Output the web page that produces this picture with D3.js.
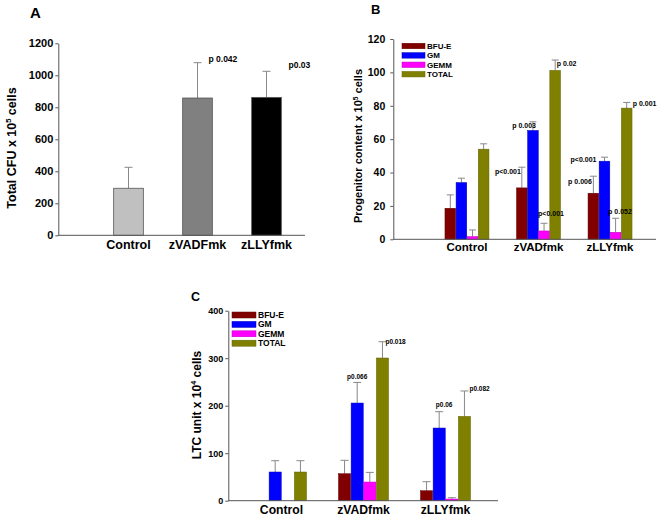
<!DOCTYPE html>
<html>
<head>
<meta charset="utf-8">
<script src="https://cdn.jsdelivr.net/npm/d3@7"></script>
<style>
    body { margin: 0; background: #fff; }
    svg { font-family: "Liberation Sans", Arial, sans-serif; font-weight: bold; }
</style>
</head>
<body>
<div id="chart"></div>
<script>
// ---- data ----
var catsA = ["Control", "zVADFmk", "zLLYfmk"];
var totalCFU = [294, 858, 862];
var totalCFUErr = [131, 221, 163];
var pLabelsA = [null, "p 0.042", "p0.03"];

var cats = ["Control", "zVADfmk", "zLLYfmk"];
var seriesNames = ["BFU-E", "GM", "GEMM", "TOTAL"];

var progBFUE = [18.6, 30.8, 27.6],   progBFUEErr = [8, 12.4, 10.2];
var progGM = [34, 65.2, 46.8],       progGMErr = [2.6, 5.2, 2.4];
var progGEMM = [1.6, 5, 4.2],        progGEMMErr = [4, 4.6, 8.4];
var progTOTAL = [54, 101.2, 78.6],   progTOTALErr = [3.2, 6.2, 3.4];

var ltcBFUE = [0, 56.8, 21],         ltcBFUEErr = [0, 28.2, 19];
var ltcGM = [60.4, 205.6, 153],      ltcGMErr = [23.8, 43.4, 34.4];
var ltcGEMM = [0, 39.3, 3.5],        ltcGEMMErr = [0, 20.3, 2.8];
var ltcTOTAL = [60.4, 300.4, 177.5], ltcTOTALErr = [23.8, 34.3, 53.5];

// p value text per [category][series]
var pLabelsB = [
    [null, null, null, null],
    ["p<0.001", "p 0.003", "p<0.001", "p 0.02"],
    ["p 0.006", "p<0.001", "p 0.052", "p 0.001"]
];
var pLabelsC = [
    [null, null, null, null],
    [null, "p0.066", null, "p0.018"],
    [null, "p0.06", null, "p0.082"]
];

// ---- placement of the p labels (relative to error bar top) ----
var pPlaceA = [null, [11, -1, "start"], [22, -3, "start"]];
var pPlaceB = [
    [null, null, null, null],
    [[-1, 7, "end"], [3, 6, "end"], [-6, -7, "start"], [1.5, 6, "start"]],
    [[-1.5, 7.5, "end"], [-8, 5, "end"], [-7.5, -4.5, "start"], [6, 3.5, "start"]]
];
var pPlaceC = [
    [null, null, null, null],
    [null, [0, -3, "middle"], null, [3, 2.5, "start"]],
    [null, [5, -4.5, "middle"], null, [5, 0.5, "start"]]
];

var colors = ["#800000", "#0000ff", "#ff00ff", "#808000"];
var greysA = ["#c0c0c0", "#808080", "#000000"];

var width = 661, height = 517;

var svg = d3.select("#chart").append("svg")
            .attr("width", width)
            .attr("height", height);

svg.append("rect").attr("width", width).attr("height", height).attr("fill", "#fff");

function drawAxes(g, y, opts) {
    var yAxis = d3.axisLeft(y)
                  .tickValues(opts.ticks)
                  .tickFormat(d3.format("d"))
                  .tickSize(3)
                  .tickSizeOuter(0)
                  .tickPadding(opts.tickPad);
    var ya = g.append("g")
              .attr("transform", "translate(" + opts.x0 + ",0)")
              .call(yAxis);
    ya.select(".domain").attr("stroke", "#555");
    ya.selectAll(".tick line").attr("stroke", "#555");
    ya.selectAll(".tick text")
      .attr("fill", "#000")
      .style("font-size", opts.tickFont + "px")
      .style("font-weight", "bold");

    g.append("line")
     .attr("x1", opts.x0).attr("x2", opts.x1)
     .attr("y1", y(0)).attr("y2", y(0))
     .attr("stroke", "#555");

    // axis title, rotated, with superscript
    var t = g.append("text")
             .attr("transform", "translate(" + opts.titleX + "," + opts.titleY + ") rotate(-90)")
             .attr("text-anchor", "middle")
             .style("font-size", opts.titleFont + "px");
    t.append("tspan").text(opts.title[0]);
    t.append("tspan").attr("dy", -opts.titleFont * 0.4)
     .style("font-size", (opts.titleFont * 0.6) + "px").text(opts.title[1]);
    t.append("tspan").attr("dy", opts.titleFont * 0.4).text(opts.title[2]);

    g.append("text")
     .attr("x", opts.letterX).attr("y", opts.letterY)
     .style("font-size", opts.letterFont + "px")
     .text(opts.letter);
}

function drawCatLabels(g, x, names, yPos, fontSize) {
    g.selectAll(".catLabel")
     .data(names)
     .enter()
     .append("text")
     .attr("class", "catLabel")
     .attr("x", function(d) { return x(d) + x.bandwidth() / 2; })
     .attr("y", yPos)
     .attr("text-anchor", "middle")
     .style("font-size", fontSize + "px")
     .text(function(d) { return d; });
}

function errorBar(g, cx, yTop, yBar, cap, color) {
    g.append("line")
     .attr("x1", cx).attr("x2", cx)
     .attr("y1", yBar).attr("y2", yTop)
     .attr("stroke", color).attr("stroke-width", 1);
    g.append("line")
     .attr("x1", cx - cap).attr("x2", cx + cap)
     .attr("y1", yTop).attr("y2", yTop)
     .attr("stroke", color).attr("stroke-width", 1);
}

// ================= Panel A =================
(function() {
    var g = svg.append("g").attr("class", "panelA");
    var y = d3.scaleLinear().domain([0, 1200]).range([235.3, 43.3]);
    var x = d3.scaleBand().domain(catsA).range([94, 301]).paddingInner(0.57).paddingOuter(0.285);

    var rows = catsA.map(function(c, i) {
        return {cat: c, v: totalCFU[i], e: totalCFUErr[i], fill: greysA[i], p: pLabelsA[i], place: pPlaceA[i]};
    });

    rows.forEach(function(d) {
        var cx = x(d.cat) + x.bandwidth() / 2;
        errorBar(g, cx, y(d.v + d.e), y(d.v), 4, "#888");
    });

    g.selectAll(".bar")
     .data(rows)
     .enter()
     .append("rect")
     .attr("class", "bar")
     .attr("x", function(d) { return x(d.cat); })
     .attr("width", x.bandwidth())
     .attr("y", function(d) { return y(d.v); })
     .attr("height", function(d) { return y(0) - y(d.v); })
     .attr("fill", function(d) { return d.fill; })
     .attr("stroke", "#555")
     .attr("stroke-width", 0.8);

    rows.forEach(function(d) {
        if (!d.p) { return; }
        var cx = x(d.cat) + x.bandwidth() / 2;
        g.append("text")
         .attr("x", cx + d.place[0])
         .attr("y", y(d.v + d.e) + d.place[1])
         .attr("text-anchor", d.place[2])
         .attr("fill", "#000")
         .style("font-size", "8.5px")
         .text(d.p);
    });

    drawAxes(g, y, {
        ticks: d3.range(0, 1201, 200), x0: 58.3, x1: 305, tickPad: 2, tickFont: 11,
        title: ["Total CFU x 10", "5", " cells"], titleX: 15.5, titleY: 148, titleFont: 12.5,
        letter: "A", letterX: 30, letterY: 18, letterFont: 15
    });
    drawCatLabels(g, x, catsA, 249, 12.5);
})();

// ============ grouped panels B and C ============
function groupedPanel(cls, series, errs, labels, places, cfg) {
    var g = svg.append("g").attr("class", cls);
    var y = d3.scaleLinear().domain(cfg.domain).range(cfg.yRange);
    var x = d3.scaleBand().domain(cats).range(cfg.xRange).paddingInner(cfg.padIn).paddingOuter(cfg.padIn / 2);
    var xs = d3.scaleBand().domain(seriesNames).range([0, x.bandwidth()]).paddingInner(0.04);

    var cells = [];
    cats.forEach(function(c, i) {
        seriesNames.forEach(function(s, j) {
            cells.push({cat: c, ci: i, s: s, si: j, v: series[j][i], e: errs[j][i],
                        p: labels[i][j], place: places[i][j]});
        });
    });
    var shown = cells.filter(function(d) { return d.v > 0; });

    shown.forEach(function(d) {
        var cx = x(d.cat) + xs(d.s) + xs.bandwidth() / 2;
        errorBar(g, cx, y(d.v + d.e), y(d.v), cfg.cap, "#888");
    });

    g.selectAll(".bar")
     .data(shown)
     .enter()
     .append("rect")
     .attr("class", "bar")
     .attr("x", function(d) { return x(d.cat) + xs(d.s); })
     .attr("width", xs.bandwidth())
     .attr("y", function(d) { return y(d.v); })
     .attr("height", function(d) { return y(0) - y(d.v); })
     .attr("fill", function(d) { return colors[d.si]; })
     .attr("stroke", function(d) { return d3.color(colors[d.si]).darker(0.8); })
     .attr("stroke-width", 0.5);

    // p labels on top of the bars
    shown.forEach(function(d) {
        if (!d.p) { return; }
        var cx = x(d.cat) + xs(d.s) + xs.bandwidth() / 2;
        g.append("text")
         .attr("x", cx + d.place[0])
         .attr("y", y(d.v + d.e) + d.place[1])
         .attr("text-anchor", d.place[2])
         .attr("fill", "#000")
         .style("font-size", cfg.pFont + "px")
         .text(d.p);
    });

    // legend
    var leg = g.selectAll(".legRow")
               .data(seriesNames)
               .enter()
               .append("g")
               .attr("class", "legRow")
               .attr("transform", function(d, i) {
                   return "translate(" + cfg.legX + "," + (cfg.legY + i * cfg.legStep) + ")";
               });
    leg.append("rect")
       .attr("y", -cfg.swH / 2)
       .attr("width", cfg.swW)
       .attr("height", cfg.swH)
       .attr("fill", function(d, i) { return colors[i]; })
       .attr("stroke", function(d, i) { return d3.color(colors[i]).darker(0.8); })
       .attr("stroke-width", 0.5);
    leg.append("text")
       .attr("x", cfg.swW + 2)
       .attr("y", cfg.legFont * 0.36)
       .style("font-size", cfg.legFont + "px")
       .text(function(d) { return d; });

    drawAxes(g, y, cfg.axis);
    drawCatLabels(g, x, cats, cfg.catY, cfg.catFont);
}

groupedPanel("panelB",
    [progBFUE, progGM, progGEMM, progTOTAL],
    [progBFUEErr, progGMErr, progGEMMErr, progTOTALErr],
    pLabelsB, pPlaceB, {
        domain: [0, 120], yRange: [239.3, 39], xRange: [431.2, 645.8], padIn: 0.385,
        cap: 3.5, pFont: 7,
        legX: 402, legY: 46, legStep: 9.4, swW: 23, swH: 5.5, legFont: 8,
        catY: 250.5, catFont: 11.5,
        axis: {
            ticks: d3.range(0, 121, 20), x0: 393.3, x1: 656, tickPad: 5, tickFont: 10.5,
            title: ["Progenitor content x 10", "5", " cells"], titleX: 362, titleY: 146, titleFont: 11,
            letter: "B", letterX: 371, letterY: 13.5, letterFont: 13
        }
    });

groupedPanel("panelC",
    [ltcBFUE, ltcGM, ltcGEMM, ltcTOTAL],
    [ltcBFUEErr, ltcGMErr, ltcGEMMErr, ltcTOTALErr],
    pLabelsC, pPlaceC, {
        domain: [0, 400], yRange: [500.7, 310.7], xRange: [240.5, 486.5], padIn: 0.39,
        cap: 4, pFont: 6.5,
        legX: 232, legY: 315, legStep: 9.4, swW: 24, swH: 6, legFont: 8.5,
        catY: 514, catFont: 12.2,
        axis: {
            ticks: d3.range(0, 401, 100), x0: 228.3, x1: 498, tickPad: 2, tickFont: 9,
            title: ["LTC unit x 10", "4", " cells"], titleX: 200.5, titleY: 405, titleFont: 12,
            letter: "C", letterX: 191, letterY: 301, letterFont: 12.5
        }
    });
</script>
</body>
</html>
